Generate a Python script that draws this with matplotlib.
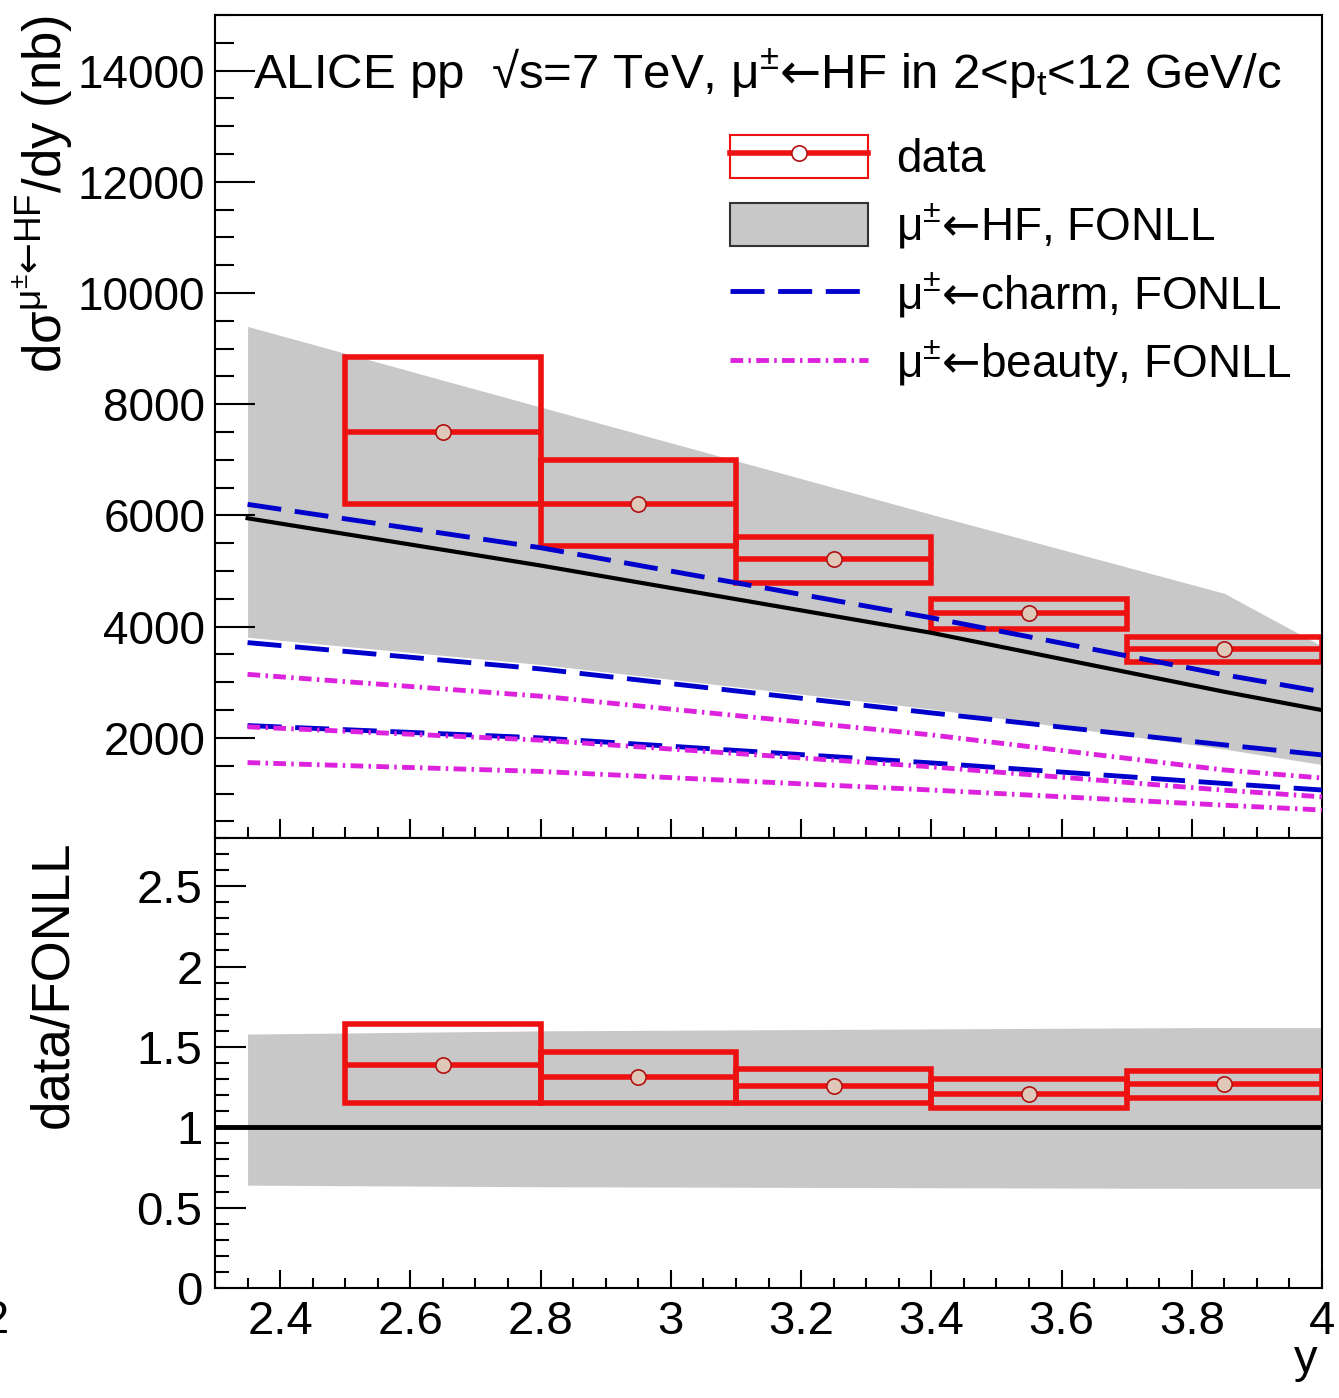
import matplotlib
matplotlib.use("Agg")
import matplotlib.pyplot as plt
from matplotlib.patches import Rectangle
from matplotlib.lines import Line2D
from matplotlib.legend_handler import HandlerTuple
from matplotlib.ticker import MultipleLocator, FormatStrFormatter

plt.rcParams['font.family'] = ['Liberation Sans', 'DejaVu Sans']
plt.rcParams['mathtext.fontset'] = 'custom'
plt.rcParams['mathtext.rm'] = 'Liberation Sans'
plt.rcParams['mathtext.it'] = 'Liberation Sans'
plt.rcParams['mathtext.bf'] = 'Liberation Sans:bold'
plt.rcParams['mathtext.sf'] = 'DejaVu Sans'
plt.rcParams['mathtext.default'] = 'regular'

# measured points (rapidity bins)
y_lo = [2.5, 2.8, 3.1, 3.4, 3.7]
y_hi = [2.8, 3.1, 3.4, 3.7, 4.0]
y_c = [2.65, 2.95, 3.25, 3.55, 3.85]
xsec = [7500, 6200, 5220, 4250, 3600]
xsec_sys_lo = [6200, 5450, 4790, 3950, 3370]
xsec_sys_hi = [8850, 7000, 5620, 4500, 3810]

ratio = [1.39, 1.31, 1.26, 1.21, 1.27]
ratio_sys_lo = [1.15, 1.15, 1.15, 1.12, 1.18]
ratio_sys_hi = [1.64, 1.47, 1.365, 1.30, 1.35]

# FONLL predictions
fonll_y = [2.35, 2.8, 3.4, 3.85, 4.0]
hf_c = [5950, 5100, 3890, 2830, 2500]
hf_lo = [3810, 3320, 2520, 1800, 1520]
hf_hi = [9400, 7950, 6020, 4600, 3650]
charm_c = [3714, 3240, 2450, 1874, 1694]
charm_lo = [2222, 2000, 1550, 1180, 1063]
charm_hi = [6200, 5420, 4160, 3135, 2830]
beauty_c = [2200, 1960, 1480, 1060, 940]
beauty_lo = [1556, 1397, 1063, 790, 703]
beauty_hi = [3143, 2750, 2054, 1423, 1279]

ratio_band_y = [2.35, 2.8, 3.8, 4.0]
ratio_band_lo = [0.64, 0.63, 0.62, 0.62]
ratio_band_hi = [1.58, 1.60, 1.62, 1.62]

RED = '#ee1111'
GREY = '#c8c8c8'
BLUE = '#0000cc'
MAG = '#dd22dd'
charm_ls = (0, (7, 2.8))
beauty_ls = (0, (2.6, 1.1, 0.5, 1.1))
ARROW = r'\mathsf{←}'

W, H = 1339, 1398
fig = plt.figure(figsize=(W / 100, H / 100), dpi=100)
ax = fig.add_axes([215 / W, 1 - 838 / H, 1107 / W, 823 / H])
axr = fig.add_axes([215 / W, 1 - 1288 / H, 1107 / W, 450 / H], sharex=ax)

# ---- top panel
ax.fill_between(fonll_y, hf_lo, hf_hi, color=GREY, lw=0, zorder=1)
for lo, hi, slo, shi in zip(y_lo, y_hi, xsec_sys_lo, xsec_sys_hi):
    ax.add_patch(Rectangle((lo, slo), hi - lo, shi - slo, fill=False,
                           ec=RED, lw=4, zorder=2))
ax.hlines(xsec, y_lo, y_hi, color=RED, lw=4, zorder=2)
ax.plot(fonll_y, hf_c, color='black', lw=3, zorder=3)
for c in (charm_hi, charm_c, charm_lo):
    ax.plot(fonll_y, c, color=BLUE, lw=3.5, ls=charm_ls, zorder=3)
for b in (beauty_hi, beauty_c, beauty_lo):
    ax.plot(fonll_y, b, color=MAG, lw=3.5, ls=beauty_ls, zorder=3)
ax.plot(y_c, xsec, 'o', ms=11, mfc='#e0c8b8', mec='#b01010', mew=1.2, zorder=4)

ax.set_xlim(2.3, 4.0)
ax.set_ylim(200, 15000)
ax.yaxis.set_major_locator(MultipleLocator(2000))
ax.yaxis.set_minor_locator(MultipleLocator(500))
ax.xaxis.set_major_locator(MultipleLocator(0.2))
ax.xaxis.set_minor_locator(MultipleLocator(0.05))
ax.tick_params(axis='y', which='major', direction='in', length=29, width=1.5,
               labelsize=33, pad=7)
ax.tick_params(axis='y', which='minor', direction='in', length=14, width=1.5)
ax.tick_params(axis='x', which='major', direction='in', length=14, width=1.5,
               labelbottom=False)
ax.tick_params(axis='x', which='minor', direction='in', length=8, width=1.5)
for s in ax.spines.values():
    s.set_linewidth(1.5)

fig.text(253 / W, 1 - 88 / H,
         'ALICE pp  √s=7 TeV, μ$^{±}' + ARROW + '$HF in 2<p$_{t}$<12 GeV/c',
         fontsize=35.5, va='baseline', ha='left')

h_data = (Rectangle((0, 0), 1, 1, fc='white', ec=RED, lw=1.5),
          Line2D([], [], color=RED, lw=4, marker='o', ms=11, mfc='white',
                 mec='#b01010', mew=1.2))
h_hf = Rectangle((0, 0), 1, 1, fc=GREY, ec='#333333', lw=1.5)
h_charm = Line2D([], [], color=BLUE, lw=3.5, ls=charm_ls)
h_beauty = Line2D([], [], color=MAG, lw=3.5, ls=beauty_ls)
labels = ['data',
          'μ$^{±}' + ARROW + '$HF, FONLL',
          'μ$^{±}' + ARROW + '$charm, FONLL',
          'μ$^{±}' + ARROW + '$beauty, FONLL']
ax.legend([h_data, h_hf, h_charm, h_beauty], labels,
          handler_map={tuple: HandlerTuple(ndivide=1)},
          loc='upper left', bbox_to_anchor=((730 - 215) / 1107, 1 - (135 - 15) / 823),
          frameon=False, fontsize=33, handlelength=3.0, handleheight=1.05,
          handletextpad=0.62, labelspacing=0.43, borderpad=0, borderaxespad=0,
          numpoints=1)

fig.text(62 / W, 1 - 15 / H, 'dσ$^{μ^{±}' + ARROW + 'HF}$/dy (nb)', fontsize=38,
         rotation=90, rotation_mode='anchor', ha='right', va='baseline')

# ---- ratio panel
axr.fill_between(ratio_band_y, ratio_band_lo, ratio_band_hi, color=GREY, lw=0, zorder=1)
axr.axhline(1, color='black', lw=3.5, zorder=2)
for lo, hi, slo, shi in zip(y_lo, y_hi, ratio_sys_lo, ratio_sys_hi):
    axr.add_patch(Rectangle((lo, slo), hi - lo, shi - slo, fill=False,
                            ec=RED, lw=4, zorder=3))
axr.hlines(ratio, y_lo, y_hi, color=RED, lw=4, zorder=3)
axr.plot(y_c, ratio, 'o', ms=11, mfc='#e0c8b8', mec='#b01010', mew=1.2, zorder=4)

axr.set_ylim(0, 2.8)
axr.yaxis.set_major_locator(MultipleLocator(0.5))
axr.yaxis.set_minor_locator(MultipleLocator(0.1))
axr.yaxis.set_major_formatter(FormatStrFormatter('%g'))
axr.xaxis.set_major_formatter(FormatStrFormatter('%g'))
axr.tick_params(axis='y', which='major', direction='in', length=22, width=1.5,
                labelsize=34, pad=9)
axr.tick_params(axis='y', which='minor', direction='in', length=10, width=1.5)
axr.tick_params(axis='x', which='major', direction='in', length=13, width=1.5,
                labelsize=34, pad=9)
axr.tick_params(axis='x', which='minor', direction='in', length=7, width=1.5)
for s in axr.spines.values():
    s.set_linewidth(1.5)

fig.text(67 / W, 1 - 840 / H, 'data/FONLL', fontsize=38, rotation=90,
         rotation_mode='anchor', ha='right', va='baseline')
fig.text(1318 / W, 1 - 1372 / H, 'y', fontsize=34, ha='right', va='baseline')
fig.text(9 / W, 1 - 1333 / H, '2', fontsize=34, ha='right', va='baseline')

fig.savefig('out.png', dpi=100)
